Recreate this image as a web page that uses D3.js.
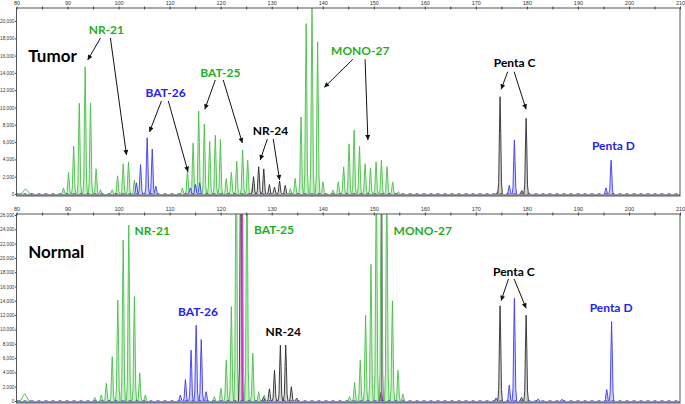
<!DOCTYPE html>
<html>
<head>
<meta charset="utf-8">
<title></title>
<style>
  body { margin: 0; background: #fff; }
  svg { display: block; }
  .axis text { font-family: "Liberation Sans", Arial, sans-serif; font-size: 5.5px; fill: #333; }
  .axis.y text { font-size: 4.7px; }
  .axis line { stroke: #444; }
  .axis path { display: none; }
  .lbl { font-family: Lato, "Open Sans", sans-serif; font-weight: bold; }
</style>
<script src="https://d3js.org/d3.v7.min.js"></script>
</head>
<body>
<script>
// size axis (bp)
var sizeTicks = [80, 85, 90, 95, 100, 105, 110, 115, 120, 125, 130, 135, 140, 145, 150, 155, 160, 165, 170, 175, 180, 185, 190, 195, 200, 205, 210]
var sizeLabels = [80, 90, 100, 110, 120, 130, 140, 150, 160, 170, 180, 190, 200, 210]
var tumorYTicks = [0, 2000, 4000, 6000, 8000, 10000, 12000, 14000, 16000, 18000, 20000]
var normalYTicks = [0, 2000, 4000, 6000, 8000, 10000, 12000, 14000, 16000, 18000, 20000, 22000, 24000, 26000]

// peaks: [size in bp, height in RFU]
var tumorGreen = [
  [89.2, 700], [90.2, 2500], [91.2, 5550], [92.3, 10500], [93.45, 14700], [94.5, 10500], [95.6, 2900], [96.45, 500],
  [98.75, 500], [99.8, 2100], [100.9, 3500], [101.95, 3700], [103.1, 1600],
  [112.5, 700], [113.5, 2800], [114.6, 5900], [115.7, 9600], [116.8, 8100], [117.85, 6100], [118.95, 6800], [119.95, 6300],
  [121.1, 1800], [122.1, 2500], [123.15, 3800], [124.3, 5100], [125.3, 3900], [126.3, 1200],
  [133.65, 600], [134.6, 1800], [135.75, 8900], [136.75, 19700], [137.9, 22000], [139.0, 17600], [140.05, 1400],
  [142.0, 460], [143.05, 1400], [144.1, 3150], [145.15, 5800], [146.15, 7400], [147.2, 5500], [148.3, 3500],
  [149.35, 3000], [150.45, 3700], [151.5, 3900], [152.6, 3150], [153.7, 1400], [154.8, 270]
]
var tumorBlue = [
  [103.5, 1300], [104.3, 3400], [105.6, 6500], [106.6, 5200], [107.3, 900],
  [114.05, 700], [115.05, 1100], [115.9, 1300],
  [176.55, 1000], [177.55, 6250],
  [195.5, 700], [196.5, 3900]
]
var tumorBlack = [
  [126.45, 2000], [127.45, 3150], [128.45, 2900], [129.55, 1100], [130.55, 800], [131.55, 1500], [132.65, 1000],
  [174.35, 300], [174.75, 11250], [179.0, 400], [179.85, 8750]
]
var tumorPink = []
var tumorHumps = [[81.8, 600]]

var normalGreen = [
  [95.35, 500], [96.6, 840], [97.6, 2470], [98.75, 6200], [99.85, 14100], [100.9, 22500], [102.0, 24600], [103.1, 14600], [104.15, 3900], [105.25, 840],
  [118.75, 600], [120.05, 1800], [121.1, 5700], [122.1, 13200], [123.05, 38000], [124.2, 40000], [125.15, 34000], [126.3, 6700], [127.45, 1300], [128.55, 840],
  [145.25, 600], [146.25, 2600], [147.35, 5700], [148.4, 12000], [149.45, 19100], [150.5, 32000], [151.5, 36000], [152.55, 32000], [153.65, 14000], [154.75, 4300], [155.7, 1000]
]
var normalBlue = [
  [112.1, 840], [113.1, 3000], [114.2, 7100], [115.2, 10600], [116.2, 8600], [117.15, 1300],
  [176.55, 2200], [177.55, 14350], [182.2, 300], [186.9, 250],
  [195.65, 1600], [196.6, 11100]
]
var normalBlack = [
  [123.95, 40000],
  [128.4, 500], [129.55, 1700], [130.55, 4300], [131.7, 7800], [132.75, 7800], [133.85, 2000], [134.9, 400],
  [151.45, 1200],
  [173.95, 400], [174.75, 13300], [178.95, 500], [179.85, 12000]
]
var normalPink = [[124.2, 40000], [151.55, 40000]]
var normalHumps = [[81.6, 1000]]

// annotations: text, colour, [size, height] of baseline centre
var tumorLabels = [
  { text: "Tumor", color: "#000", at: [82.3, 15260], size: 17, anchor: "start" },
  { text: "NR-21", color: "#1fae1f", at: [97.6, 18500] },
  { text: "BAT-26", color: "#2323ee", at: [109.2, 11210] },
  { text: "BAT-25", color: "#1fae1f", at: [119.95, 13525] },
  { text: "NR-24", color: "#000", at: [129.75, 6820] },
  { text: "MONO-27", color: "#1fae1f", at: [147.35, 16070] },
  { text: "Penta C", color: "#000", at: [177.6, 14720] },
  { text: "Penta D", color: "#2323ee", at: [196.95, 5090] }
]
var tumorArrows = [
  [[96.45, 18030], [93.95, 15490]], [[98.4, 18030], [101.55, 4510]],
  [[108.4, 10750], [106.05, 7170]], [[109.75, 10750], [113.6, 2580]],
  [[118.95, 13180], [116.9, 9790]], [[120.5, 13180], [124.25, 5900]],
  [[129.15, 6360], [127.75, 3930]], [[130.3, 6360], [131.55, 1620]],
  [[145.9, 15570], [140.3, 12330]], [[148.3, 15570], [148.85, 6240]],
  [[176.25, 14140], [174.95, 12100]], [[177.5, 14140], [179.85, 9790]]
]
var normalLabels = [
  { text: "Normal", color: "#000", at: [82.3, 19990], size: 17, anchor: "start" },
  { text: "NR-21", color: "#1fae1f", at: [106.6, 23210] },
  { text: "BAT-26", color: "#2323ee", at: [115.55, 11950] },
  { text: "BAT-25", color: "#1fae1f", at: [130.45, 23350] },
  { text: "NR-24", color: "#000", at: [132.25, 9090] },
  { text: "MONO-27", color: "#1fae1f", at: [159.6, 23210] },
  { text: "Penta C", color: "#000", at: [177.45, 17540] },
  { text: "Penta D", color: "#2323ee", at: [196.5, 12440] }
]
var normalArrows = [
  [[176.4, 17060], [174.95, 14020]], [[177.5, 17060], [179.85, 12960]]
]

var W = 685, H = 404
var svg = d3.select("body").append("svg").attr("width", W).attr("height", H)

var defs = svg.append("defs")
defs.append("marker")
  .attr("id", "arrow")
  .attr("viewBox", "0 0 10 10")
  .attr("refX", 10).attr("refY", 5)
  .attr("markerWidth", 6).attr("markerHeight", 5)
  .attr("markerUnits", "userSpaceOnUse")
  .attr("orient", "auto")
  .append("path").attr("d", "M0,0L10,5L0,10z").attr("fill", "#111")

// peak outline template (fractions of half width / height)
var shape = [[-1, 0], [-0.6, 0.12], [-0.3, 0.62], [0, 1], [0.3, 0.62], [0.6, 0.12], [1, 0]]
var line = d3.line()

function drawPanel(p) {
  var x = d3.scaleLinear().domain([80, 210]).range([16.5, 680])
  var y = d3.scaleLinear().domain(p.yDomain).range(p.yRange)

  var g = svg.append("g")

  defs.append("clipPath").attr("id", p.id)
    .append("rect").attr("x", 16.5).attr("y", p.top).attr("width", 680 - 16.5).attr("height", p.bottom - p.top)

  var plot = g.append("g").attr("clip-path", "url(#" + p.id + ")")

  function peaks(data, stroke, fill, w, sw) {
    plot.append("g").selectAll("path")
      .data(data)
      .enter()
      .append("path")
      .attr("d", function(d) {
        return line(shape.map(function(s) { return [x(d[0] + s[0] * w), y(d[1] * s[1])] }))
      })
      .attr("fill", fill)
      .attr("stroke", stroke)
      .attr("stroke-width", sw)
      .attr("stroke-linejoin", "round")
  }

  peaks(p.humps, "#4cc44c", "none", 1.2, 1)
  peaks(p.green, "#47c047", "#c9efc9", 0.45, 0.9)
  peaks(p.blue, "#3a3af5", "#cfcffc", 0.45, 0.9)
  peaks(p.black, "#2a2a2a", "#d4d4d4", 0.45, 0.9)
  peaks(p.pink, "#ee22ee", "none", 0.05, 0.9)

  // baseline
  g.append("line")
    .attr("x1", 16.5).attr("x2", 680)
    .attr("y1", y(0) + 1).attr("y2", y(0) + 1)
    .attr("stroke", "#777").attr("stroke-width", 1.5)
  g.append("line")
    .attr("x1", 16.5).attr("x2", 680)
    .attr("y1", y(0) - 0.3).attr("y2", y(0) - 0.3)
    .attr("stroke", "#3a3af5").attr("stroke-width", 0.8).attr("stroke-dasharray", "3,4")

  // frame
  g.append("rect")
    .attr("x", 16.5).attr("y", p.top)
    .attr("width", 680 - 16.5).attr("height", p.bottom - p.top)
    .attr("fill", "none").attr("stroke", "#555").attr("stroke-width", 1)

  g.append("g")
    .attr("class", "axis")
    .attr("transform", "translate(0," + (p.top + 1.5) + ")")
    .call(d3.axisTop(x).tickValues(sizeTicks).tickSize(3).tickPadding(1.5)
      .tickFormat(function(d) { return sizeLabels.indexOf(d) >= 0 ? d : "" }))

  g.append("g")
    .attr("class", "axis y")
    .attr("transform", "translate(16.5,0)")
    .call(d3.axisLeft(y).tickValues(p.yTicks).tickSize(1.5).tickPadding(0.6))

  // labels and arrows
  g.append("g").selectAll("line")
    .data(p.arrows)
    .enter()
    .append("line")
    .attr("x1", function(d) { return x(d[0][0]) })
    .attr("y1", function(d) { return y(d[0][1]) })
    .attr("x2", function(d) { return x(d[1][0]) })
    .attr("y2", function(d) { return y(d[1][1]) })
    .attr("stroke", "#111").attr("stroke-width", 1)
    .attr("marker-end", "url(#arrow)")

  g.append("g").selectAll("text")
    .data(p.labels)
    .enter()
    .append("text")
    .attr("class", "lbl")
    .attr("x", function(d) { return x(d.at[0]) })
    .attr("y", function(d) { return y(d.at[1]) })
    .attr("text-anchor", function(d) { return d.anchor || "middle" })
    .attr("font-size", function(d) { return (d.size || 12) + "px" })
    .attr("fill", function(d) { return d.color })
    .text(function(d) { return d.text })
}

drawPanel({
  id: "clipTumor", top: 8, bottom: 196,
  yDomain: [0, 20000], yRange: [194, 21], yTicks: tumorYTicks,
  green: tumorGreen, blue: tumorBlue, black: tumorBlack, pink: tumorPink, humps: tumorHumps,
  labels: tumorLabels, arrows: tumorArrows
})
drawPanel({
  id: "clipNormal", top: 214, bottom: 403,
  yDomain: [0, 26000], yRange: [401, 215], yTicks: normalYTicks,
  green: normalGreen, blue: normalBlue, black: normalBlack, pink: normalPink, humps: normalHumps,
  labels: normalLabels, arrows: normalArrows
})
</script>
</body>
</html>
